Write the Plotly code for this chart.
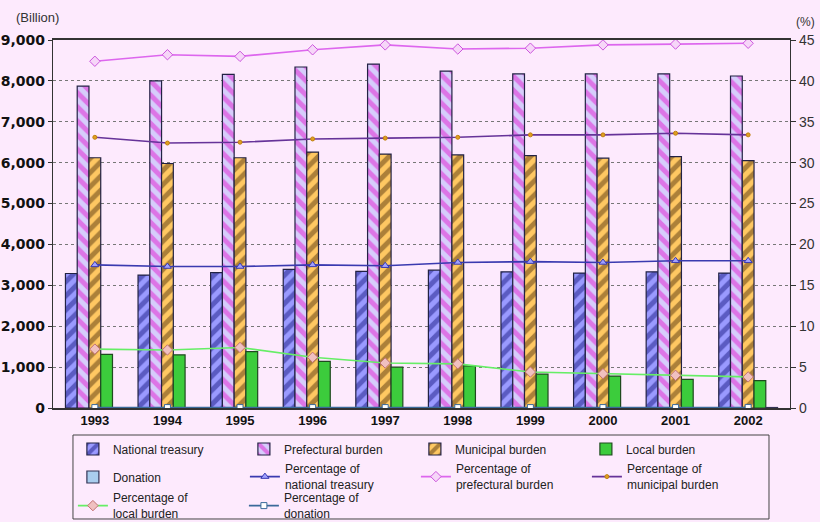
import plotly.graph_objects as go

# Fiscal years
years = ["1993", "1994", "1995", "1996", "1997", "1998", "1999", "2000", "2001", "2002"]

# Burden amounts (billion yen)
national_treasury = [3290, 3250, 3310, 3390, 3340, 3370, 3330, 3300, 3330, 3300]
prefectural_burden = [7870, 8000, 8160, 8340, 8410, 8240, 8170, 8170, 8170, 8120]
municipal_burden = [6120, 5980, 6120, 6260, 6210, 6190, 6170, 6110, 6150, 6050]
local_burden = [1310, 1300, 1380, 1140, 1000, 1030, 830, 780, 700, 670]
donation = [8, 8, 8, 8, 8, 8, 8, 8, 8, 12]

# Shares of the total (%)
pct_national = [17.5, 17.3, 17.3, 17.5, 17.4, 17.8, 17.9, 17.8, 18.0, 18.0]
pct_prefectural = [42.4, 43.2, 43.0, 43.8, 44.4, 43.9, 44.0, 44.4, 44.5, 44.6]
pct_municipal = [33.1, 32.4, 32.5, 32.9, 33.0, 33.1, 33.4, 33.4, 33.6, 33.4]
pct_local = [7.2, 7.1, 7.4, 6.2, 5.5, 5.4, 4.4, 4.2, 4.0, 3.8]
pct_donation = [0.05, 0.05, 0.05, 0.05, 0.05, 0.05, 0.05, 0.05, 0.05, 0.07]

BG = "#fdeafd"
FONT = "Liberation Sans, Arial, sans-serif"

fig = go.Figure()

def bar(name, values, bg, legend, fg=None, shape="", line="#222244"):
    pattern = dict(shape=shape, fgcolor=fg, bgcolor=bg, size=10, solidity=0.5) if shape else None
    fig.add_trace(go.Bar(
        name=name, x=years, y=values, legend=legend,
        marker=dict(color=bg, line=dict(color=line, width=1.2), pattern=pattern),
    ))

bar("National treasury", national_treasury, "#9a9aff", "legend", "#1c1c86", "/")
bar("Prefectural burden", prefectural_burden, "#d6cdfb", "legend", "#e21ed2", "\\")
bar("Municipal burden", municipal_burden, "#ffc862", "legend", "#5a3810", "/")
bar("Local burden", local_burden, "#3ccc3c", "legend", line="#1f4a1f")
bar("Donation", donation, "#a9cdee", "legend4", line="#333355")

def line(name, values, color, symbol, mcolor, mline, legend, msize=7):
    fig.add_trace(go.Scatter(
        name=name, x=years, y=values, yaxis="y2", mode="lines+markers", legend=legend,
        line=dict(color=color, width=1.6),
        marker=dict(symbol=symbol, size=msize, color=mcolor, line=dict(color=mline, width=1)),
    ))

line("Percentage of<br>national treasury", pct_national, "#3a3ab0", "triangle-up", "#a0a0ff", "#3a3ab0", "legend2")
line("Percentage of<br>prefectural burden", pct_prefectural, "#dd66ee", "diamond", "#f6d6f8", "#cc55dd", "legend2", 8)
line("Percentage of<br>municipal burden", pct_municipal, "#663399", "circle", "#e0a020", "#c08010", "legend2", 4)
line("Percentage of<br>local burden", pct_local, "#66ee66", "diamond", "#f0c0c0", "#c07070", "legend3", 8)
line("Percentage of<br>donation", pct_donation, "#3a6a9a", "square", "#ffffff", "#3a6a9a", "legend3", 6)

# Legend rows sharing one framed box
def legend_row(x, y):
    return dict(
        orientation="h", x=x, y=y, xanchor="left", yanchor="middle",
        entrywidth=126, entrywidthmode="pixels",
        bgcolor="rgba(0,0,0,0)", borderwidth=0,
        font=dict(family=FONT, size=12, color="#222222"),
        traceorder="normal", tracegroupgap=0, itemwidth=30,
    )

fig.update_layout(
    width=820, height=522,
    margin=dict(l=53, r=30, t=40, b=114, autoexpand=False),
    paper_bgcolor=BG, plot_bgcolor=BG,
    font=dict(family=FONT, size=13, color="#222222"),
    barmode="group", bargap=0.19, bargroupgap=0,
    showlegend=True,
    legend=legend_row(0.027, -0.1114),
    legend2=legend_row(0.2604, -0.1875),
    legend3=legend_row(0.027, -0.2663),
    legend4=legend_row(0.027, -0.1875),
    xaxis=dict(
        type="category", showline=True, linecolor="#333333", linewidth=1.5,
        mirror=True, ticks="", showgrid=False,
        tickfont=dict(family=FONT, size=13, color="#111111", weight="bold"),
    ),
    yaxis=dict(
        range=[0, 9000], dtick=1000, tickformat=",", showline=True,
        linecolor="#333333", linewidth=1.2, ticks="outside", ticklen=4,
        tickcolor="#333333",
        showgrid=True, gridcolor="#777777", griddash="dot", gridwidth=1,
        tickfont=dict(family="DejaVu Sans, sans-serif", size=14, color="#111111", weight="bold"),
        zeroline=False,
    ),
    yaxis2=dict(
        range=[0, 45], dtick=5, overlaying="y", side="right", showline=True,
        linecolor="#333333", linewidth=1.2, ticks="outside", ticklen=5,
        tickcolor="#333333", showgrid=False, zeroline=False,
        tickfont=dict(family=FONT, size=14, color="#333333"),
    ),
    shapes=[
        dict(type="rect", xref="paper", yref="paper",
             x0=0.0271, x1=0.9715, y0=-0.3016, y1=-0.0734,
             line=dict(color="#444444", width=1), fillcolor="rgba(0,0,0,0)", layer="below"),
    ],
    annotations=[
        dict(text="(Billion)", xref="paper", yref="paper", x=-0.053, y=1.062,
             xanchor="left", yanchor="middle", showarrow=False,
             font=dict(family=FONT, size=13, color="#333333")),
        dict(text="(%)", xref="paper", yref="paper", x=1.005, y=1.05,
             xanchor="left", yanchor="middle", showarrow=False,
             font=dict(family=FONT, size=12, color="#333333")),
    ],
)

fig.write_html("out.html")
